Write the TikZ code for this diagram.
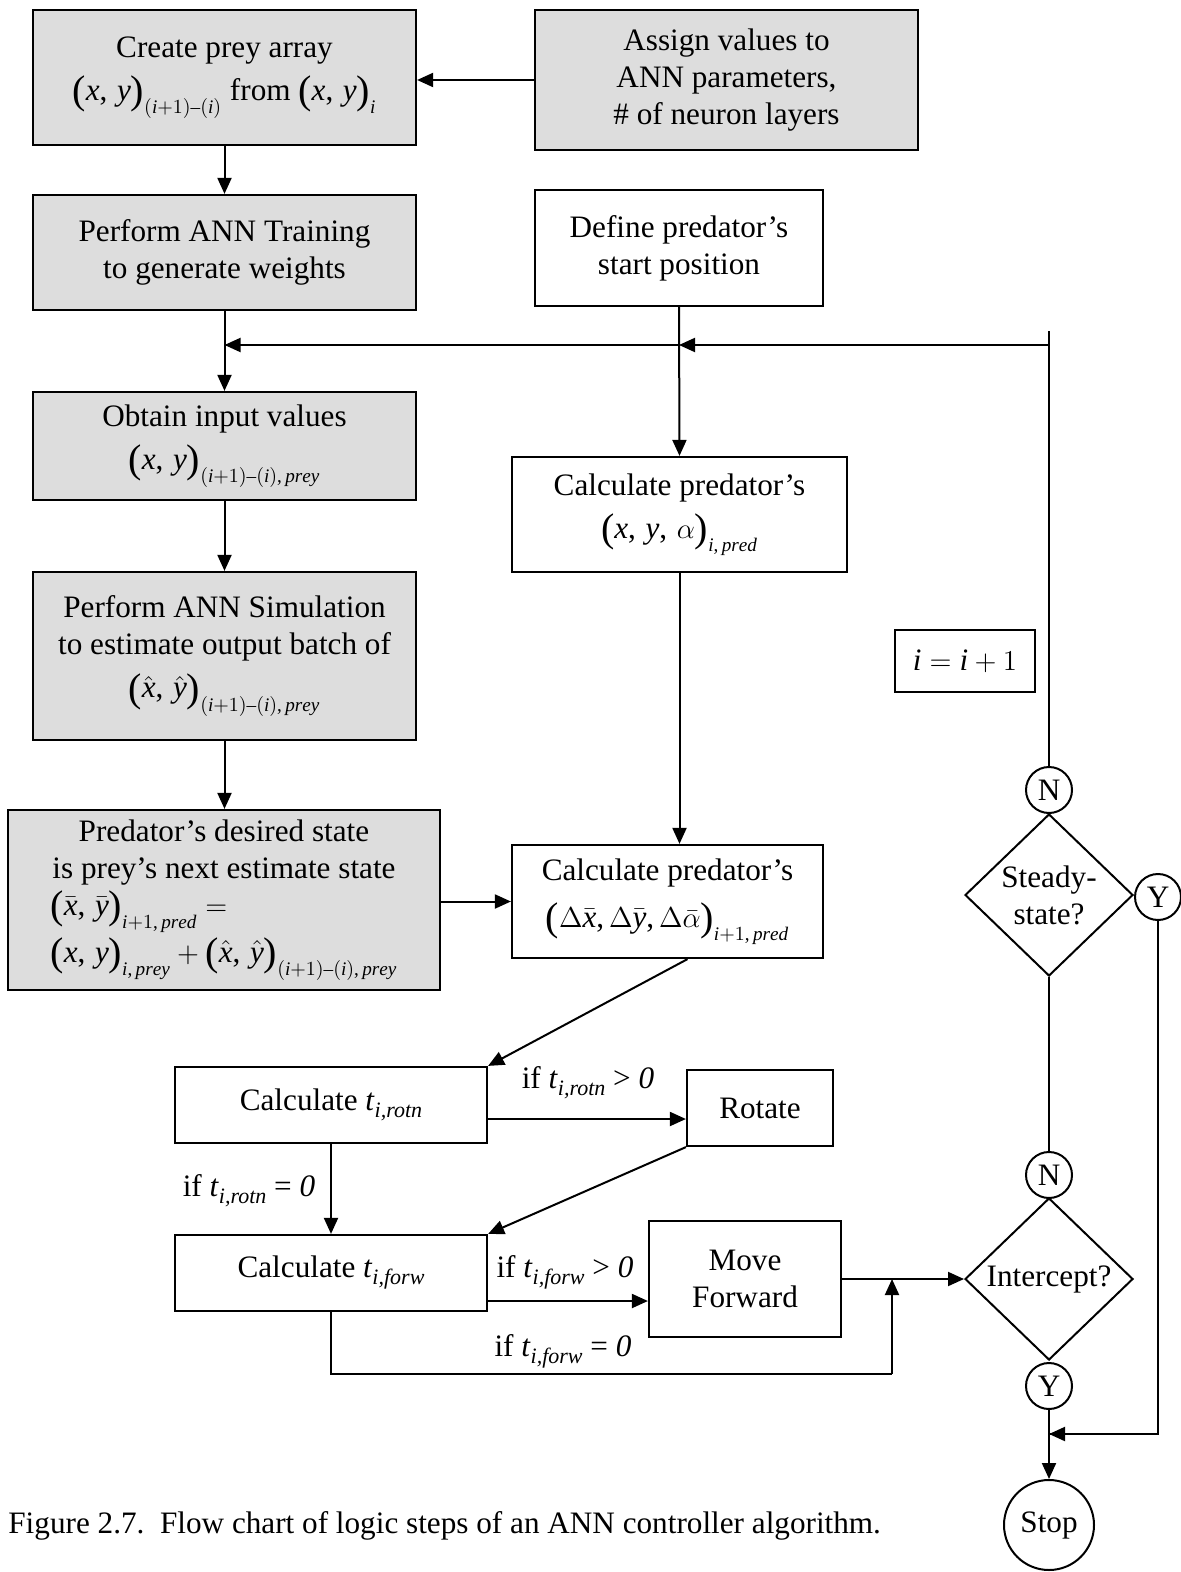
\documentclass[tikz,border=0pt]{standalone}
\usepackage{fontspec}
\setmainfont{Liberation Serif}
\usepackage[italic]{mathastext}
\usepackage{tikz}
\usetikzlibrary{arrows.meta, positioning, shapes.geometric}
\definecolor{BoxGray}{RGB}{221,221,221}
\DeclareMathSizes{15.6}{15.6}{9.6}{7.5}
\newcommand{\opar}{\mathopen{\raisebox{-1.8pt}{\fontsize{20pt}{20pt}\selectfont(}}}
\newcommand{\cpar}{\mathclose{\raisebox{-1.8pt}{\fontsize{20pt}{20pt}\selectfont)}}}
\newcommand{\tvar}[1]{\textit{t}\raisebox{-3.5pt}{\fontsize{11pt}{11pt}\selectfont\itshape #1}}

\begin{document}
\begin{tikzpicture}[
    x=0.5pt, y=-0.5pt,
    every node/.style={font=\fontsize{15.6pt}{18.5pt}\selectfont, align=center},
    shaded/.style={draw, line width=1.1pt, fill=BoxGray, inner sep=2pt},
    plain/.style={draw, line width=1.1pt, fill=white, inner sep=2pt},
    decision/.style={draw, line width=1pt, diamond, inner sep=0pt,
                minimum width=84pt, minimum height=81pt},
    answer/.style={draw, line width=1pt, circle, inner sep=0pt, minimum size=23pt},
    cond/.style={inner sep=1pt},
    arr/.style={-{Triangle[length=8pt, width=7pt]}, line width=1pt},
    link/.style={line width=1pt}
]
\path[use as bounding box, fill=white] (0,0) rectangle (1180,1572);

% prey side
\node[shaded, minimum width=191.5pt, minimum height=67.5pt] (prey) at (224.5,77.5)
    {Create prey array\\[3pt] $\opar x,\, y\cpar_{(i+1)-(i)}$ from $\opar x,\, y\cpar_{i}$};
\node[shaded, minimum width=191.5pt, minimum height=70pt] (params) at (726.5,80)
    {Assign values to\\ ANN parameters,\\ \# of neuron layers};
\node[shaded, minimum width=191.5pt, minimum height=57.5pt] (train) at (224.5,252.5)
    {Perform ANN Training\\ to generate weights};
\node[shaded, minimum width=191.5pt, minimum height=54pt] (input) at (224.5,446)
    {Obtain input values\\[3pt] $\opar x,\, y\cpar_{(i+1)-(i),\,prey}$};
\node[shaded, minimum width=191.5pt, minimum height=84pt] (sim) at (224.5,656)
    {Perform ANN Simulation\\ to estimate output batch of\\[3pt]
     $\opar\hat{x},\, \hat{y}\cpar_{(i+1)-(i),\,prey}$};
\node[shaded, minimum width=216pt, minimum height=90pt] (desired) at (224,900)
    {Predator's desired state\\ is prey's next estimate state\\[1pt]
     \begin{tabular}{@{}l@{}}
     $\opar\bar{x},\, \bar{y}\cpar_{i+1,\,pred} =$\\[5pt]
     $\opar x,\, y\cpar_{i,\,prey} + \opar\hat{x},\, \hat{y}\cpar_{(i+1)-(i),\,prey}$
     \end{tabular}};

% predator side
\node[plain, minimum width=144pt, minimum height=58pt] (start) at (679,248)
    {Define predator's\\ start position};
\node[plain, minimum width=167.5pt, minimum height=57.5pt] (state) at (679.5,514.5)
    {Calculate predator's\\[3pt] $\opar x,\, y,\, \alpha\cpar_{i,\,pred}$};
\node[plain, minimum width=70pt, minimum height=31pt] (incr) at (965,661) {$i = i + 1$};
\node[plain, minimum width=155.5pt, minimum height=56.5pt] (delta) at (667.5,901.5)
    {Calculate predator's\\[5pt]
     $\opar\Delta\bar{x}, \Delta\bar{y}, \Delta\bar{\alpha}\cpar_{i+1,\,pred}$};
\node[plain, minimum width=156pt, minimum height=38pt] (trot) at (331,1105)
    {Calculate \tvar{i,rotn}};
\node[plain, minimum width=73pt, minimum height=38pt] (rotate) at (760,1108) {Rotate};
\node[plain, minimum width=156pt, minimum height=38pt] (tfwd) at (331,1273)
    {Calculate \tvar{i,forw}};
\node[plain, minimum width=96pt, minimum height=58pt] (move) at (745,1279) {Move\\ Forward};

% decisions
\node[answer] (noA) at (1049,790) {N};
\node[decision] (steady) at (1049,895) {Steady-\\state?};
\node[answer] (yesA) at (1158,897) {Y};
\node[answer] (noB) at (1049,1175) {N};
\node[decision] (intercept) at (1049,1279) {Intercept?};
\node[answer] (yesB) at (1049,1386) {Y};
\node[draw, line width=1pt, circle, inner sep=0pt, minimum size=45pt] (stop) at (1049,1525) {Stop};

% branch labels
\node[cond] (rotpos) at (588,1083) {if \tvar{i,rotn} > \textit{0}};
\node[cond] (rotzero) at (249,1191) {if \tvar{i,rotn} = \textit{0}};
\node[cond] (fwdpos) at (565,1272) {if \tvar{i,forw} > \textit{0}};
\node[cond] (fwdzero) at (563,1351) {if \tvar{i,forw} = \textit{0}};

\node[anchor=west, inner sep=0pt] (caption) at (8,1526)
    {Figure 2.7.\ \ Flow chart of logic steps of an ANN controller algorithm.};

% loop junctions
\coordinate (loopTop) at (1049,331);
\coordinate (loopR) at (1049,345);
\coordinate (fwdJoin) at (892,1279);
\coordinate (fwdLow) at (892,1374);
\coordinate (stopJoin) at (1049,1434);

\draw[arr] (params.west) -- (params.west -| prey.east);
\draw[arr] (prey) -- (train);
\draw[link] (train.south) -- (loopR -| train.south);
\draw[arr] (loopR -| train.south) -- (input.north);
\draw[arr] (input) -- (sim);
\draw[arr] (sim.south) -- (sim.south |- desired.north);
\draw[arr] (desired.east |- delta.west) -- (delta.west);

\draw[link] (noA.north) -- (loopTop);
\draw[arr] (loopR) -- (loopR -| start.south);
\draw[arr] (loopR -| start.south) -- (loopR -| train.south);
\draw[arr] (start.south) -- (state.north);
\draw[arr] (state.south) -- (state.south |- delta.north);

\draw[arr] ([xshift=10pt]delta.south) -- (trot.north east);
\draw[arr] ([yshift=-7pt]trot.east) -- ([yshift=-7pt]trot.east -| rotate.west);
\draw[arr] (trot) -- (tfwd);
\draw[arr] (rotate.south west) -- (tfwd.north east);
\draw[arr] ([yshift=-14pt]tfwd.east) -- ([yshift=-14pt]tfwd.east -| move.west);
\draw[link] (tfwd.south) |- (fwdLow);
\draw[arr] (fwdLow) -- (fwdJoin);
\draw[arr] (move.east) -- (intercept.west);

\draw[link] (steady.south) -- (noB.north);
\draw[link] (yesA.south) |- (stopJoin);
\draw[arr] (yesA.south |- stopJoin) -- (stopJoin);
\draw[arr] (yesB) -- (stop);
\end{tikzpicture}
\end{document}
